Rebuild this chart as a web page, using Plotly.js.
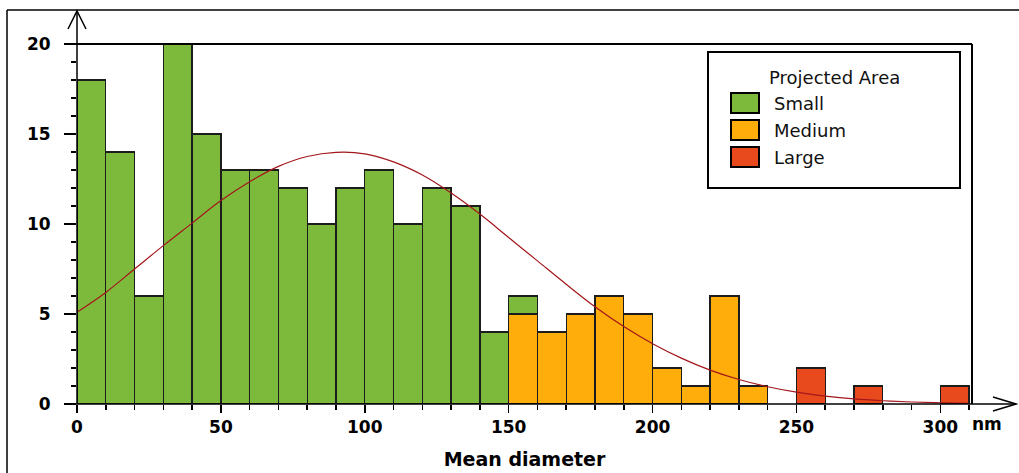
<!DOCTYPE html>
<html>
<head>
<meta charset="utf-8">
<script src="https://cdn.plot.ly/plotly-3.0.1.min.js"></script>
<style>html,body{margin:0;padding:0;background:#fff;}#chart{width:1019px;height:473px;}</style>
</head>
<body>
<div id="chart"></div>
<script>
// ---- data ----
const seriesNames = ["Small", "Medium", "Large"];
const smallBins = [0, 10, 20, 30, 40, 50, 60, 70, 80, 90, 100, 110, 120, 130, 140, 150];
const smallCounts = [18, 14, 6, 20, 15, 13, 13, 12, 10, 12, 13, 10, 12, 11, 4, 1];
const mediumBins = [150, 160, 170, 180, 190, 200, 210, 220, 230];
const mediumCounts = [5, 4, 5, 6, 5, 2, 1, 6, 1];
const largeBins = [250, 270, 300];
const largeCounts = [2, 1, 1];
const fitX = [0, 10, 20, 30, 40, 50, 60, 70, 80, 90, 100, 110, 120, 130, 140, 150, 160, 170, 180, 190, 200, 210, 220, 230, 240, 250, 260, 270, 280, 290, 300, 310];
const fitY = [5.1, 6.2, 7.5, 8.8, 10.05, 11.3, 12.35, 13.2, 13.75, 13.98, 13.9, 13.45, 12.72, 11.72, 10.55, 9.25, 7.95, 6.65, 5.4, 4.3, 3.35, 2.55, 1.88, 1.36, 0.96, 0.66, 0.44, 0.28, 0.18, 0.11, 0.07, 0.04];
const xTickVals = [0, 50, 100, 150, 200, 250, 300];
const xTickText = ["0", "50", "100", "150", "200", "250", "300"];
const xUnit = "nm";
const yTickVals = [0, 5, 10, 15, 20];
const xTitle = "Mean diameter";
const legendTitle = "Projected Area";

// ---- styling ----
const colors = {Small: "#7dba3c", Medium: "#ffad0a", Large: "#e84a1e"};
const edge = "#1c1c1c";
const FONT = "DejaVu Sans, Verdana, sans-serif";
const W = 1019, H = 473, L = 77, R = 972, T = 44, B = 404;
const px = v => (v - L) / (R - L);
const py = v => (B - v) / (B - T);

function barTrace(name, bins, counts) {
  return {
    type: "bar", name: name, x: bins, y: counts, offset: 0, width: 10,
    marker: {color: colors[name], line: {color: edge, width: 1.4}},
    showlegend: false, hoverinfo: "x+y+name"
  };
}
const traces = [
  barTrace(seriesNames[1], mediumBins, mediumCounts),
  barTrace(seriesNames[0], smallBins, smallCounts),
  barTrace(seriesNames[2], largeBins, largeCounts),
  {type: "scatter", mode: "lines", x: fitX, y: fitY, line: {color: "#a3161b", width: 1.2, shape: "spline", smoothing: 1}, showlegend: false, hoverinfo: "skip"}
];

function line(x0, y0, x1, y1, w) {
  return {type: "line", xref: "paper", yref: "paper", x0: px(x0), y0: py(y0), x1: px(x1), y1: py(y1), line: {color: "#000", width: w || 1.5}, layer: "above"};
}
function path(pts, w) {
  const d = pts.map((p, i) => (i ? "L" : "M") + px(p[0]) + "," + py(p[1])).join(" ");
  return {type: "path", xref: "paper", yref: "paper", path: d, line: {color: "#000", width: w || 1.5}, layer: "above"};
}
function rect(x0, y0, x1, y1, fill, w) {
  return {type: "rect", xref: "paper", yref: "paper", x0: px(x0), y0: py(y0), x1: px(x1), y1: py(y1), fillcolor: fill, line: {color: "#000", width: w}, layer: "above"};
}

const shapes = [
  line(7, 10, 7, 480, 1.5),
  line(7, 10, 1025, 10, 1.5),
  line(65, 44, 972, 44, 2),
  line(972, 44, 972, 404, 2),
  line(77, 12, 77, 404, 1.5),
  path([[68, 29], [77, 11], [86, 29]], 1.5),
  line(65, 404, 1016, 404, 1.5),
  path([[993, 397], [1016, 404], [993, 411]], 1.5),
  rect(708, 52, 960, 188, "#fff", 2)
];
const annotations = [
  {xref: "paper", yref: "paper", x: px(970), y: py(424), xanchor: "left", yanchor: "middle", text: xUnit, showarrow: false, font: {family: FONT, size: 17, color: "#000", weight: "bold"}},
  {xref: "paper", yref: "paper", x: px(834), y: py(77), xanchor: "center", yanchor: "middle", text: legendTitle, showarrow: false, font: {family: FONT, size: 18, color: "#111"}}
];
seriesNames.forEach((n, i) => {
  const cy = 103 + i * 27;
  shapes.push(rect(731, cy - 10, 759, cy + 10, colors[n], 2));
  annotations.push({xref: "paper", yref: "paper", x: px(772), y: py(cy), xanchor: "left", yanchor: "middle", text: n, showarrow: false, font: {family: FONT, size: 18, color: "#111"}});
});

const layout = {
  width: W, height: H,
  margin: {l: L, r: W - R, t: T, b: H - B, pad: 0},
  paper_bgcolor: "#fff", plot_bgcolor: "#fff",
  barmode: "stack", bargap: 0,
  showlegend: false,
  font: {family: FONT, color: "#000"},
  xaxis: {
    range: [0, 311], showgrid: false, zeroline: false, showline: false,
    tickmode: "array", tickvals: xTickVals, ticktext: xTickText,
    ticks: "outside", ticklen: 8, tickwidth: 1.5, tickcolor: "#000",
    minor: {ticks: "outside", dtick: 10, tick0: 0, ticklen: 5, tickwidth: 1.5, tickcolor: "#000", showgrid: false},
    tickfont: {family: FONT, size: 17, color: "#000", weight: "bold"},
    title: {text: xTitle, font: {family: FONT, size: 19, color: "#000", weight: "bold"}, standoff: 16}
  },
  yaxis: {
    range: [0, 20], showgrid: false, zeroline: false, showline: false,
    tickmode: "array", tickvals: yTickVals,
    ticks: "outside", ticklen: 12, tickwidth: 1.5, tickcolor: "#000",
    ticklabelstandoff: 10,
    minor: {ticks: "outside", dtick: 1, tick0: 0, ticklen: 5, tickwidth: 1.2, tickcolor: "#000", showgrid: false},
    tickfont: {family: FONT, size: 17, color: "#000", weight: "bold"}
  },
  shapes: shapes,
  annotations: annotations
};

Plotly.newPlot("chart", traces, layout, {displayModeBar: false, staticPlot: true});
</script>
</body>
</html>
